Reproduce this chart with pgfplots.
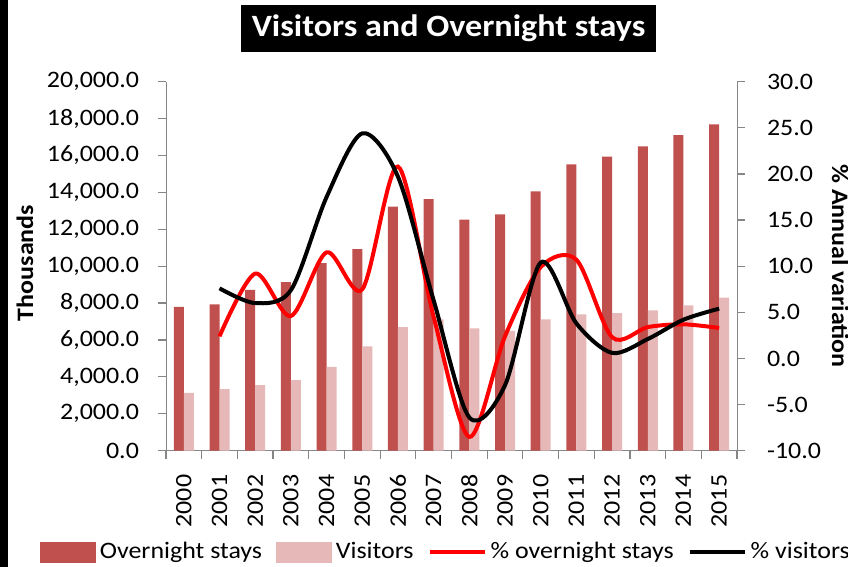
\documentclass[border=0pt]{standalone}
\usepackage{fontspec}
\setmainfont{Carlito}[FakeStretch=1.1]
\usepackage{pgfplots}
\usepackage{pgfplotstable}
\pgfplotsset{compat=1.18}

\definecolor{ovn}{RGB}{192,80,77}
\definecolor{vis}{RGB}{230,185,184}
\definecolor{axgray}{RGB}{134,134,134}
\newcommand\fs{\fontsize{11.8pt}{14pt}\selectfont}

% thousands
\pgfplotstableread{
year ovn   vis
2000 7800  3140
2001 7930  3340
2002 8710  3560
2003 9130  3830
2004 10170 4540
2005 10930 5660
2006 13230 6700
2007 13640 7120
2008 12520 6630
2009 12810 6490
2010 14060 7120
2011 15520 7390
2012 15940 7460
2013 16500 7610
2014 17110 7880
2015 17690 8290
}\stays

\pgfplotsset{
  common/.style={
    at={(83pt,58.15pt)}, anchor=south west,
    scale only axis, width=285.5pt, height=184.5pt,
    xmin=1999.5, xmax=2015.5,
    axis line style={axgray, -},
    tick style={axgray, line width=0.6pt},
    tick align=outside, major tick length=4pt, minor tick length=4pt,
    ticklabel style={font=\fs, text=black},
    /pgf/number format/assume math mode=true,
  },
}

\begin{document}
\begin{tikzpicture}
\useasboundingbox (0,0) rectangle (424pt,283.5pt);
\fill[black] (0,0) rectangle (4pt,283.5pt);

\begin{axis}[common,
  axis x line*=bottom, axis y line*=left,
  ymin=0, ymax=20000, ytick={0,2000,...,20000},
  yticklabel style={xshift=-6pt, /pgf/number format/.cd, fixed, fixed zerofill, precision=1, 1000 sep={,}},
  scaled y ticks=false,
  xtick={2000,...,2015},
  xticklabel style={yshift=-4.5pt, rotate=90, anchor=east, /pgf/number format/1000 sep={}},
  major x tick style={draw=none},
  minor xtick={1999.5,2000.5,...,2015.5},
  ybar=0pt, bar width=5pt,
]
\addplot[fill=ovn, draw=none] table[x=year, y=ovn] {\stays};
\addplot[fill=vis, draw=none] table[x=year, y=vis] {\stays};
\end{axis}

\begin{axis}[common,
  axis x line=none, axis y line*=right,
  xtick=\empty,
  ymin=-10, ymax=30, ytick={-10,-5,...,30},
  yticklabel style={xshift=7.5pt, /pgf/number format/.cd, fixed, fixed zerofill, precision=1},
  legend style={at={(axis description cs:0.492,-0.2745)}, anchor=center,
    draw=none, fill=none, font=\fs, legend columns=4,
    /tikz/every even column/.append style={column sep=5pt}},
  legend cell align=left,
]
\addlegendimage{legend image code/.code={\fill[ovn] (0pt,-5pt) rectangle (27.5pt,5pt);}}
\addlegendentry{Overnight stays}
\addlegendimage{legend image code/.code={\fill[vis] (0pt,-5pt) rectangle (27.5pt,5pt);}}
\addlegendentry{Visitors}
\addplot[red, line width=2pt, smooth, tension=0.5,
  legend image code/.code={\draw[red, line width=2pt] (0pt,0pt) -- (27.5pt,0pt);}]
  coordinates {(2001,2.4) (2002,9.2) (2003,4.6) (2004,11.5) (2005,7.5) (2006,20.8)
  (2007,4.5) (2008,-8.5) (2009,2.4) (2010,9.9) (2011,10.7) (2012,2.3) (2013,3.4)
  (2014,3.7) (2015,3.3)};
\addlegendentry{\% overnight stays}
\addplot[black, line width=2pt, smooth, tension=0.5,
  legend image code/.code={\draw[black, line width=2pt] (0pt,0pt) -- (27.5pt,0pt);}]
  coordinates {(2001,7.6) (2002,6.0) (2003,7.4) (2004,17.5) (2005,24.4) (2006,19.7)
  (2007,6.3) (2008,-6.4) (2009,-2.9) (2010,10.4) (2011,3.8) (2012,0.6) (2013,2.1)
  (2014,4.2) (2015,5.4)};
\addlegendentry{\% visitors}
\end{axis}

\node[fill=black, text=white, minimum width=207.5pt, minimum height=23.5pt,
  font=\fontsize{15.5pt}{18pt}\selectfont\bfseries] at (224.25pt,269.25pt)
  {Visitors and Overnight stays};
\node[rotate=90, anchor=base, font=\fs\bfseries] at (16.5pt,152pt) {Thousands};
\node[rotate=-90, anchor=base, font=\fs\bfseries] at (416pt,150.5pt) {\% Annual variation};
\end{tikzpicture}
\end{document}
